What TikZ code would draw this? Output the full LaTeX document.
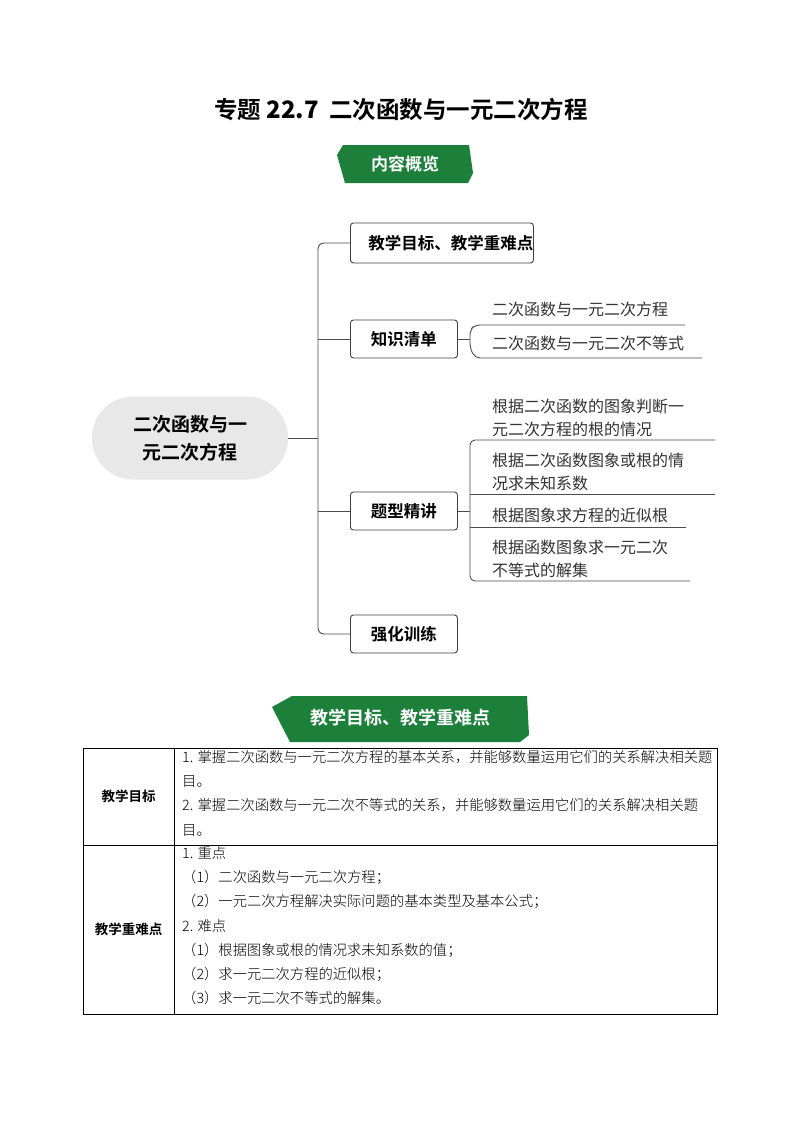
\documentclass[tikz,border=0pt]{standalone}
\usepackage{fontspec}
\setmainfont{Liberation Serif}
\newfontfamily\cjk{Noto Sans CJK SC}
\newfontfamily\cjkb{Noto Sans CJK SC Bold}
\newfontfamily\cjkl{Noto Sans CJK SC Light}
\begin{document}
\begin{tikzpicture}[x=1pt,y=-1pt,
  box/.style={draw=black!75,line width=0.9pt,rounded corners=3pt,font=\cjkb\fontsize{16.5}{18}\selectfont,anchor=west,inner sep=0pt},
  leaf/.style={anchor=west,font=\cjk\fontsize{16}{23}\selectfont,align=left,inner sep=0pt,text=black!80},
  ln/.style={draw=black!70,line width=0.9pt},
  cell/.style={anchor=west,inner sep=0pt,font=\cjkl\fontsize{14.3}{24.3}\selectfont,align=left}]
\useasboundingbox (0,0) rectangle (800,1132);
\fill[white] (0,0) rectangle (800,1132);
\node[font=\cjkb\fontsize{23.5}{26}\selectfont] (title) at (401,110) {专题 {\bfseries\fontsize{24}{26}\selectfont 22.7}\ \ 二次函数与一元二次方程};
% banner 1
\fill[fill={rgb,255:red,28;green,128;blue,58}] (343,145) -- (469,145) -- (473,173) -- (468,183) -- (345,183) -- (337,155) -- cycle;
\node[text=white,font=\cjkb\fontsize{17}{18}\selectfont] (b1) at (405,164) {内容概览};
% center
\node[fill=black!9,rounded corners=41pt,minimum width=196pt,minimum height=83pt,align=center,font=\cjkb\fontsize{19}{28}\selectfont] (c) at (190,438) {二次函数与一\\元二次方程};
% boxes
\node[box,minimum width=182pt,minimum height=40pt] (m1) at (350,243) {\hspace*{18pt}教学目标、教学重难点\hfill};
\node[box,minimum width=107pt,minimum height=38pt] (m2) at (350,339) {知识清单};
\node[box,minimum width=107pt,minimum height=38pt] (m3) at (350,511) {题型精讲};
\node[box,minimum width=107pt,minimum height=38pt] (m4) at (350,634) {强化训练};
\coordinate (v) at (318,438);
\draw[ln] (c.east) -- (v);
\draw[ln,rounded corners=6pt] (m1.west) -- (318,243) -- (318,634) -- (m4.west);
\draw[ln,rounded corners=6pt] (318,339) -- (m2.west);
\draw[ln,rounded corners=6pt] (318,511) -- (m3.west);
% knowledge leaves
\node[leaf] (k1) at (492,309) {二次函数与一元二次方程};
\node[leaf] (k2) at (492,343) {二次函数与一元二次不等式};
\draw[ln] (m2.east) -- (470,339);
\draw[ln,rounded corners=5pt] (685,325) -- (475,325) -- (470,330) -- (470,348) -- (475,358) -- (702,358);
% question leaves
\node[leaf] (q1) at (492,418) {根据二次函数的图象判断一\\元二次方程的根的情况};
\node[leaf] (q2) at (492,472) {根据二次函数图象或根的情\\况求未知系数};
\node[leaf] (q3) at (492,515) {根据图象求方程的近似根};
\node[leaf] (q4) at (492,559) {根据函数图象求一元二次\\不等式的解集};
\draw[ln] (m3.east) -- (470,511);
\draw[ln,rounded corners=5pt] (715,440) -- (470,440) -- (470,581) -- (690,581);
\draw[ln,rounded corners=5pt] (715,494) -- (470,494);
\draw[ln,rounded corners=5pt] (686,527) -- (470,527);
% banner 2
\fill[fill={rgb,255:red,28;green,128;blue,58}] (292,696) -- (527,696) -- (529,735) -- (520,742) -- (290,742) -- (272,707) -- cycle;
\node[text=white,font=\cjkb\fontsize{18}{18}\selectfont] (b2) at (400,718) {教学目标、教学重难点};
% table
\draw[line width=0.9pt] (83,748) rectangle (717,1014);
\draw[line width=0.9pt] (174,748) -- (174,1014);
\draw[line width=0.9pt] (83,845) -- (717,845);
\node[font=\cjkb\fontsize{13.5}{16}\selectfont] (h1) at (128.5,796) {教学目标};
\node[font=\cjkb\fontsize{13.5}{16}\selectfont] (h2) at (128.5,929) {教学重难点};
\node[cell,anchor=north west] (t1) at (182,750) {1. 掌握二次函数与一元二次方程的基本关系，并能够数量运用它们的关系解决相关题\\目。\\2. 掌握二次函数与一元二次不等式的关系，并能够数量运用它们的关系解决相关题\\目。};
\node[cell,anchor=north west] (t2) at (182,846) {1. 重点\\（1）二次函数与一元二次方程；\\（2）一元二次方程解决实际问题的基本类型及基本公式；\\2. 难点\\（1）根据图象或根的情况求未知系数的值；\\（2）求一元二次方程的近似根；\\（3）求一元二次不等式的解集。};
\end{tikzpicture}
\end{document}
